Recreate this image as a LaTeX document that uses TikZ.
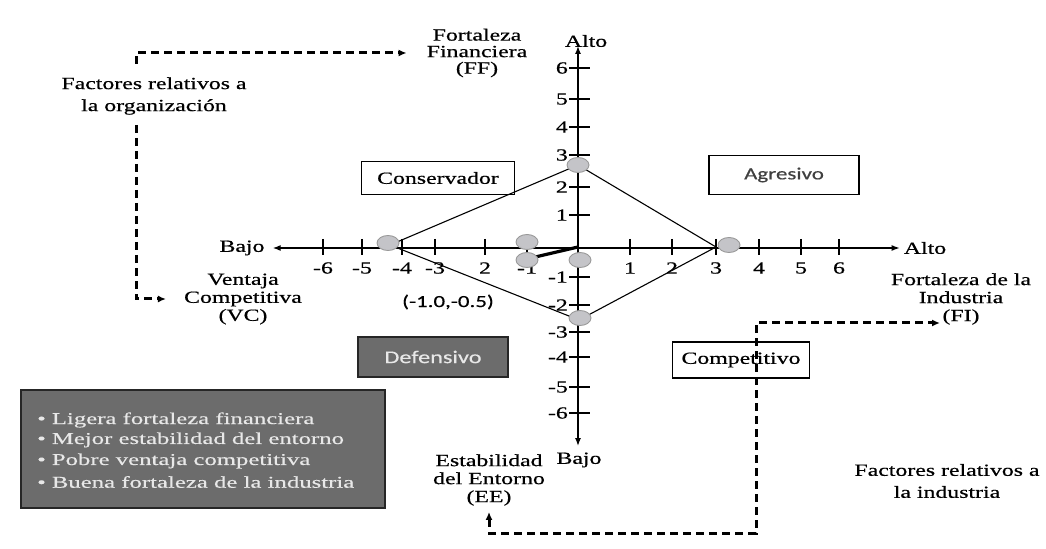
\documentclass[tikz,border=0pt]{standalone}
\usepackage{fontspec}
\setmainfont{Liberation Serif}[FakeStretch=1.4,FakeBold=0.6]
\newfontfamily\cuadrofont{Carlito}[FakeStretch=1.35,FakeBold=0.4]
\newfontfamily\listafont{Liberation Serif}[FakeStretch=1.5,FakeBold=0.4]
\usepackage{tikz}
\usetikzlibrary{arrows.meta,shapes.geometric}
\definecolor{grisbox}{RGB}{108,108,108}
\definecolor{grispunto}{RGB}{196,196,200}
\definecolor{textoclaro}{RGB}{232,232,232}

\begin{document}
\begin{tikzpicture}[x=1bp,y=-1bp,
  etiq/.style={font=\fontsize{17bp}{18bp}\selectfont, align=center, inner sep=2bp},
  eje/.style={line width=1.3bp},
  cuadro/.style={draw, line width=1.6bp, inner sep=0pt},
  oscuro/.style={cuadro, fill=grisbox, draw=black!85, line width=2bp},
  punto/.style={ellipse, minimum width=22bp, minimum height=15bp, inner sep=0pt,
    fill=grispunto, draw=black!40, line width=0.9bp},
  dashflecha/.style={line width=3bp, dash pattern=on 8bp off 5bp},
  punta/.style={-{Latex[length=8bp,width=7bp]}}]
  \useasboundingbox (0,0) rectangle (1046,549);

  % ejes
  \node[etiq] (bajoX) at (242,248) {Bajo};
  \node[etiq] (altoX) at (925,248) {Alto};
  \node[etiq] (altoY) at (586,41) {Alto};
  \node[etiq] (bajoY) at (579,460) {Bajo};
  \coordinate (yArriba) at (578,46);
  \coordinate (yAbajo) at (578,446);
  \coordinate (origen) at (578,247);
  \draw[eje, {Latex[length=8bp,width=6bp]}-{Latex[length=8bp,width=6bp]}, shorten <=6bp, shorten >=2bp] (bajoX) -- (altoX);
  \draw[eje, {Latex[length=8bp,width=6bp]}-{Latex[length=8bp,width=6bp]}] (yArriba) -- (yAbajo);
  \foreach \x/\t [count=\i] in {323/-6,362/-5,402/-4,435/-3,485/2,527/-1,630/1,672/2,716/3,759/4,801/5,839/6}{
    \draw[eje] (\x,239) -- (\x,255);
    \node[etiq] (tx\i) at (\x,268) {\t};
  }
  \foreach \y/\t [count=\i] in {68/6,99/5,127/4,155/3,187/2,215/1,277/-1,305/-2,332/-3,357/-4,387/-5,413/-6}{
    \draw[eje] (569,\y) -- (590,\y);
    \node[etiq, anchor=east] (ty\i) at (570,\y) {\t};
  }

  % poligono
  \coordinate (vFF) at (578,165);
  \coordinate (vVC) at (390,245);
  \coordinate (vEE) at (579,320);
  \coordinate (vFI) at (716,247);
  \draw[line width=1.1bp] (vFF) -- (vVC) -- (vEE) -- (vFI) -- cycle;
  \coordinate (vector) at (531,258);
  \draw[line width=3.2bp] (vector) -- (origen);
  \foreach \n/\p in {pFF/{578,165}, pVC/{388,243}, pFI/{729,245}, pEE/{580,318}, pA/{527,242}, pB/{527,260}, pC/{580,260}}{
    \node[punto] (\n) at (\p) {};
  }
  \node[etiq, font=\cuadrofont\fontsize{17bp}{18bp}\selectfont] (coord) at (448,302) {(-1.0,-0.5)};

  % cuadrantes
  \node[cuadro, minimum width=153bp, minimum height=33bp] (conservador) at (438,178) {\fontsize{17bp}{18bp}\selectfont Conservador};
  \node[cuadro, minimum width=150bp, minimum height=39bp, text=black!75] (agresivo) at (784,175) {\cuadrofont\fontsize{17bp}{18bp}\selectfont Agresivo};
  \node[oscuro, minimum width=150bp, minimum height=40bp, text=textoclaro] (defensivo) at (433,357) {\cuadrofont\fontsize{18bp}{18bp}\selectfont Defensivo};
  \node[cuadro, minimum width=137bp, minimum height=36bp] (competitivo) at (741,360) {\fontsize{17bp}{18bp}\selectfont Competitivo};

  % textos de los factores
  \node[etiq, font=\fontsize{17bp}{16.5bp}\selectfont] (ff) at (477,53) {Fortaleza\\Financiera\\(FF)};
  \node[etiq] (vc) at (243,299) {Ventaja\\Competitiva\\(VC)};
  \node[etiq] (fi) at (961,299) {Fortaleza de la\\Industria\\(FI)};
  \node[etiq] (ee) at (489,480) {Estabilidad\\del Entorno\\(EE)};
  \node[etiq, font=\fontsize{17bp}{22bp}\selectfont] (org) at (154,96) {Factores relativos a\\la organizaci\'on};
  \node[etiq, font=\fontsize{17bp}{22bp}\selectfont] (ind) at (947,481) {Factores relativos a\\la industria};

  % flechas punteadas
  \coordinate (orgA) at (136,64);
  \coordinate (orgB) at (136,125);
  \draw[dashflecha, punta, shorten >=18bp] (orgA) |- (ff.west);
  \draw[dashflecha, punta, shorten >=16bp] (orgB) |- (vc.west);
  \coordinate (indC) at (756,533);
  \coordinate (fiPunta) at (940,323);
  \draw[dashflecha, {Latex[length=8bp,width=7bp]}-{Latex[length=8bp,width=7bp]}, shorten <=4bp] (ee.south) |- (indC) |- (fiPunta);

  % resumen
  \node[oscuro, minimum width=363bp, minimum height=118bp] (resumen) at (203,449) {};
  \foreach \t/\y [count=\i] in {Ligera fortaleza financiera/420, Mejor estabilidad del entorno/440, Pobre ventaja competitiva/461, Buena fortaleza de la industria/482}{
    \node[anchor=west, inner sep=0pt, text=textoclaro, font=\listafont\fontsize{16.5bp}{18bp}\selectfont] (l\i) at (37,\y) {\textbullet\hspace{6bp}\t};
  }
\end{tikzpicture}
\end{document}
